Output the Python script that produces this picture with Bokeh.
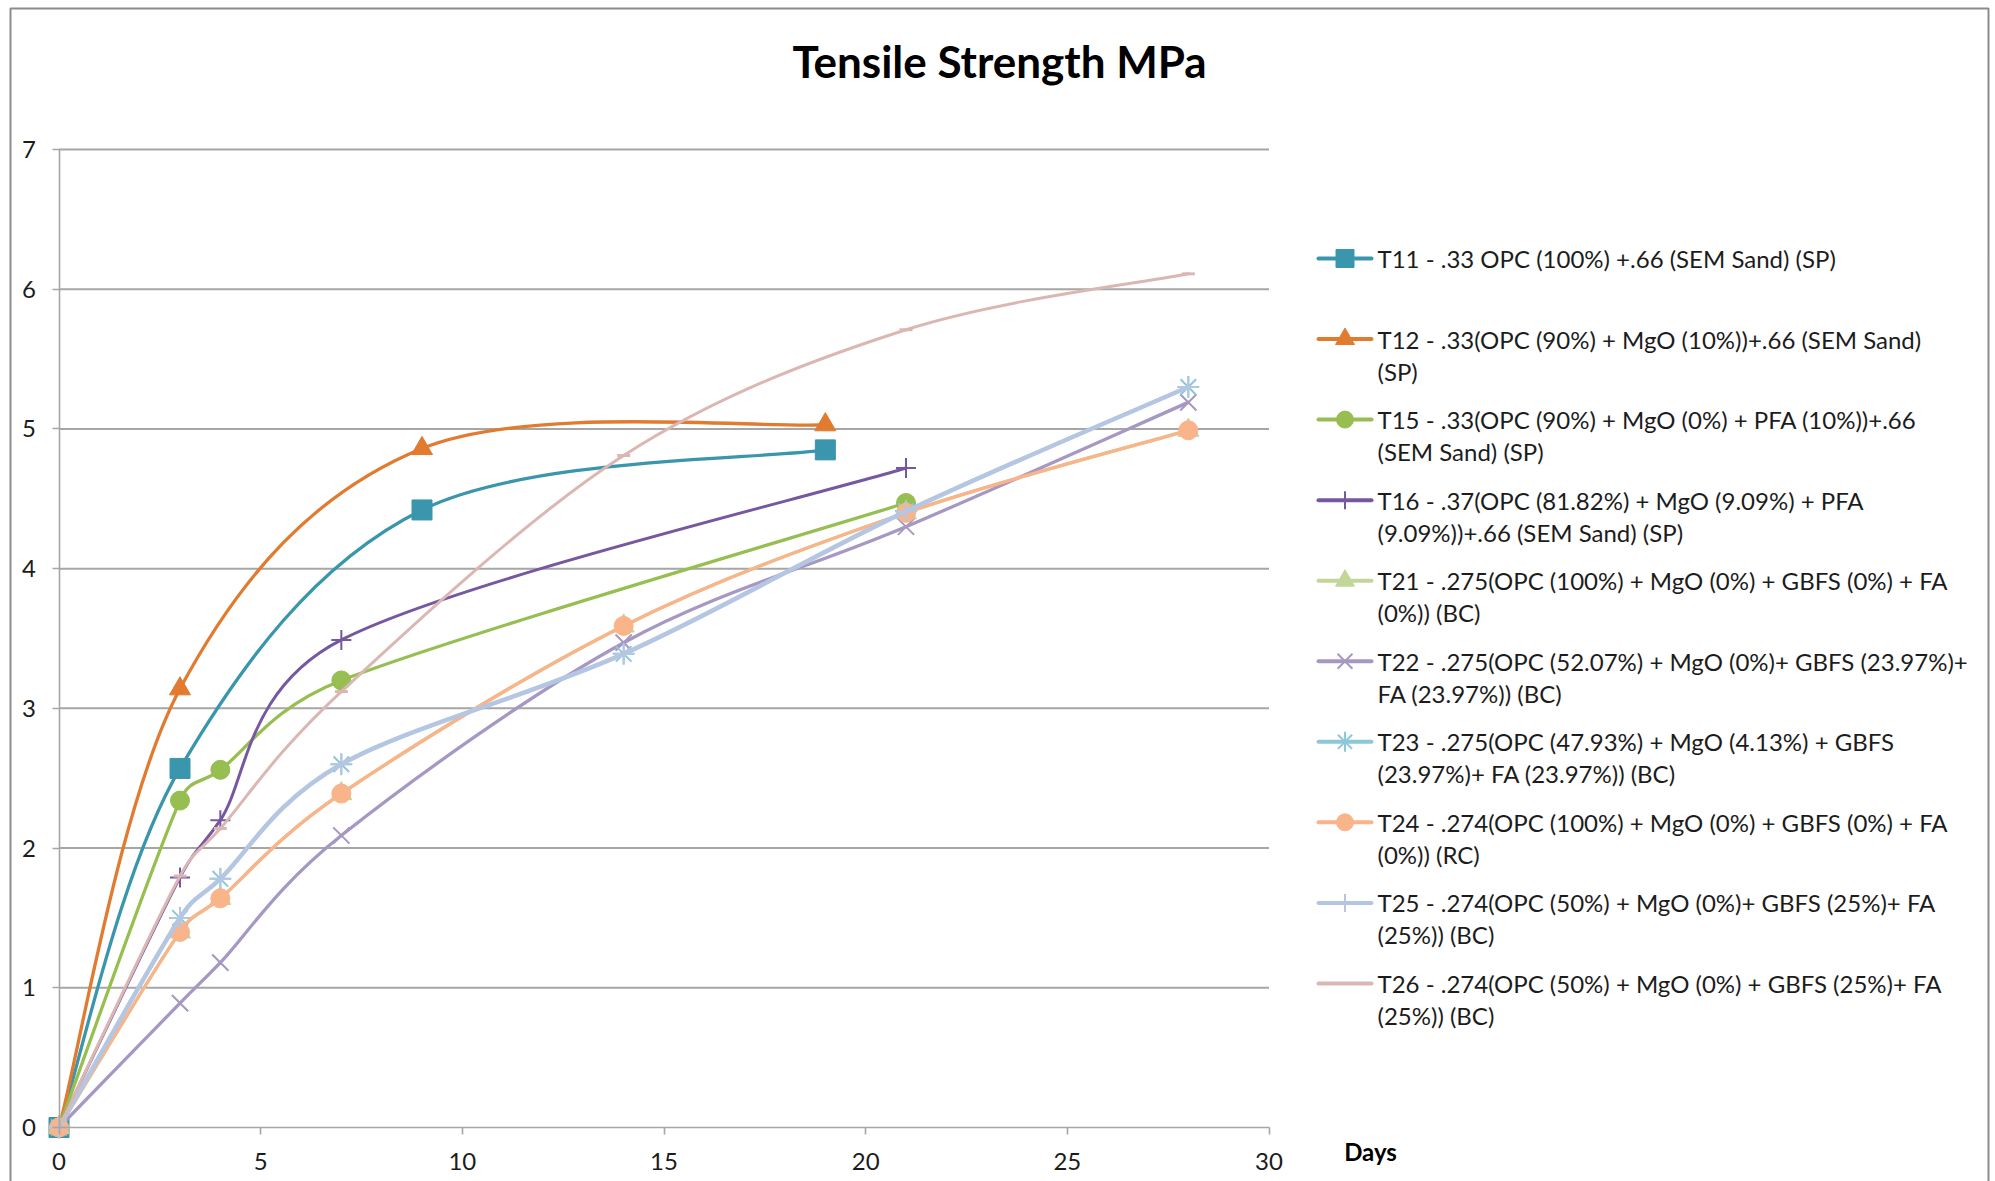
from math import hypot

from bokeh.plotting import figure
from bokeh.models import Range1d, FixedTicker, ColumnDataSource
from bokeh.core.properties import value
from bokeh.embed import file_html
from bokeh.resources import INLINE

# ---------------------------------------------------------------- data
title_text = "Tensile Strength MPa"
x_title = "Days"

day_ticks = [0, 5, 10, 15, 20, 25, 30]
mpa_ticks = [0, 1, 2, 3, 4, 5, 6, 7]

names = [
    "T11 - .33 OPC (100%) +.66 (SEM Sand) (SP)",
    "T12 - .33(OPC (90%) + MgO (10%))+.66 (SEM Sand)\n(SP)",
    "T15 - .33(OPC (90%) + MgO (0%) + PFA (10%))+.66\n(SEM Sand) (SP)",
    "T16 - .37(OPC (81.82%) + MgO (9.09%) + PFA\n(9.09%))+.66 (SEM Sand) (SP)",
    "T21 - .275(OPC (100%) + MgO (0%) + GBFS (0%) + FA\n(0%)) (BC)",
    "T22 - .275(OPC (52.07%) + MgO (0%)+ GBFS (23.97%)+\nFA (23.97%)) (BC)",
    "T23 - .275(OPC (47.93%) + MgO (4.13%) + GBFS\n(23.97%)+ FA (23.97%)) (BC)",
    "T24 - .274(OPC (100%) + MgO (0%) + GBFS (0%) + FA\n(0%)) (RC)",
    "T25 - .274(OPC (50%) + MgO (0%)+ GBFS (25%)+ FA\n(25%)) (BC)",
    "T26 - .274(OPC (50%) + MgO (0%) + GBFS (25%)+ FA\n(25%)) (BC)",
]

t11_days = [0, 3, 9, 19]
t11_mpa = [0, 2.57, 4.42, 4.85]
t12_days = [0, 3, 9, 19]
t12_mpa = [0, 3.14, 4.86, 5.03]
t15_days = [0, 3, 4, 7, 21]
t15_mpa = [0, 2.34, 2.56, 3.20, 4.47]
t16_days = [0, 3, 4, 7, 21]
t16_mpa = [0, 1.79, 2.20, 3.49, 4.72]
t21_days = [0, 3, 4, 7, 14, 21, 28]
t21_mpa = [0, 1.40, 1.64, 2.39, 3.59, 4.40, 4.99]
t22_days = [0, 3, 4, 7, 14, 21, 28]
t22_mpa = [0, 0.89, 1.18, 2.09, 3.47, 4.30, 5.19]
t23_days = [0, 3, 4, 7, 14, 21, 28]
t23_mpa = [0, 1.50, 1.78, 2.60, 3.39, 4.41, 5.30]
t24_days = [0, 3, 4, 7, 14, 21, 28]
t24_mpa = [0, 1.40, 1.64, 2.39, 3.59, 4.40, 4.99]
t25_days = [0, 3, 4, 7, 14, 21, 28]
t25_mpa = [0, 1.50, 1.78, 2.60, 3.39, 4.41, 5.30]
t26_days = [0, 3, 4, 7, 14, 21, 28]
t26_mpa = [0, 1.80, 2.14, 3.12, 4.81, 5.71, 6.11]

series_days = [t11_days, t12_days, t15_days, t16_days, t21_days,
               t22_days, t23_days, t24_days, t25_days, t26_days]
series_mpa = [t11_mpa, t12_mpa, t15_mpa, t16_mpa, t21_mpa,
              t22_mpa, t23_mpa, t24_mpa, t25_mpa, t26_mpa]

# ---------------------------------------------------------------- styles
colors = ["#3A96AD", "#E07B30", "#97BE50", "#7558A0", "#C2D69A",
          "#A698C2", "#8CC8D8", "#F9B48A", "#B4C6E2", "#DBB7B4"]
markers = ["square", "triangle", "circle", "cross", "triangle",
           "x", "asterisk", "circle", "cross", "dash"]
marker_sizes = [20, 21, 19, 20, 21, 23, 22, 19, 20, 13]
marker_filled = [True, True, True, False, True, False, False, True, False, False]
line_widths = [3.3, 3.3, 3.3, 3.0, 3.3, 3.3, 3.3, 3.3, 4.5, 3.0]

FONT = "Lato"
GRID = "#a6a6a6"
INK = "#1c1c1c"

W, H = 1995, 1181
# pixel placement of the plotting area (x: 0..30 days, y: 0..7 MPa)
PX_X0, PX_X30 = 58.5, 1268.5
PX_Y0, PX_Y7 = 1127.0, 149.0

dx = (day_ticks[-1] - day_ticks[0]) / (PX_X30 - PX_X0)
dy = (mpa_ticks[-1] - mpa_ticks[0]) / (PX_Y0 - PX_Y7)
x_range = Range1d(day_ticks[0] - PX_X0 * dx, day_ticks[-1] + (W - PX_X30) * dx)
y_range = Range1d(mpa_ticks[0] - (H - PX_Y0) * dy, mpa_ticks[-1] + PX_Y7 * dy)

p = figure(width=W, height=H, x_range=x_range, y_range=y_range,
           output_backend="svg", toolbar_location=None, min_border=0)
p.title.visible = False
p.outline_line_color = None
p.background_fill_color = "white"
p.border_fill_color = "white"
p.grid.visible = False

# overlay coordinate system in page pixels (y grows downward)
p.extra_x_ranges = {"px": Range1d(0, W)}
p.extra_y_ranges = {"px": Range1d(H, 0)}

# ---------------------------------------------------------------- axes
xa = p.xaxis[0]
xa.fixed_location = 0
xa.bounds = (day_ticks[0], day_ticks[-1])
xa.ticker = FixedTicker(ticks=day_ticks)
ya = p.yaxis[0]
ya.fixed_location = 0
ya.bounds = (mpa_ticks[0], mpa_ticks[-1])
ya.ticker = FixedTicker(ticks=mpa_ticks)
for ax in (xa, ya):
    ax.axis_line_color = GRID
    ax.axis_line_width = 1.6
    ax.major_tick_line_color = GRID
    ax.major_tick_line_width = 1.6
    ax.major_tick_out = 7
    ax.major_tick_in = 0
    ax.minor_tick_line_color = None
    ax.major_label_text_font = FONT
    ax.major_label_text_font_size = "24px"
    ax.major_label_text_color = INK
xa.major_label_standoff = 18
ya.major_label_standoff = 16

# horizontal gridlines
p.segment(x0=[day_ticks[0]] * (len(mpa_ticks) - 1), x1=[day_ticks[-1]] * (len(mpa_ticks) - 1),
          y0=mpa_ticks[1:], y1=mpa_ticks[1:], line_color=GRID, line_width=2)


# ---------------------------------------------------------------- smoothed series
def bezier_pieces(xs, ys, sx=1.0 / dx, sy=1.0 / dy):
    """Cubic Bezier pieces of a smoothed line.

    Catmull-Rom tangents (1/6 of the chord to the neighbours), with each
    control arm limited to half of its segment, measured on screen.
    """
    n = len(xs)

    def dist(i, j):
        return hypot((xs[j] - xs[i]) * sx, (ys[j] - ys[i]) * sy)

    out = {k: [] for k in ("x0", "y0", "x1", "y1", "cx0", "cy0", "cx1", "cy1")}
    for i in range(n - 1):
        a = i - 1 if i > 0 else i
        d = i + 2 if i + 2 < n else i + 1
        half = dist(i, i + 1) / 2.0
        d_a = dist(a, i + 1)
        d_d = dist(i, d)
        f1 = 1.0 / 6.0 if d_a / 6.0 < half else half / d_a
        f2 = 1.0 / 6.0 if d_d / 6.0 < half else half / d_d
        out["x0"].append(xs[i]); out["y0"].append(ys[i])
        out["x1"].append(xs[i + 1]); out["y1"].append(ys[i + 1])
        out["cx0"].append(xs[i] + (xs[i + 1] - xs[a]) * f1)
        out["cy0"].append(ys[i] + (ys[i + 1] - ys[a]) * f1)
        out["cx1"].append(xs[i + 1] - (xs[d] - xs[i]) * f2)
        out["cy1"].append(ys[i + 1] - (ys[d] - ys[i]) * f2)
    return out


def draw_marker(kind, color, size, filled, **where):
    kw = dict(marker=kind, size=size, line_color=color)
    if filled:
        kw.update(fill_color=color, line_width=1)
    else:
        kw.update(fill_color=None, line_width=3 if kind == "dash" else 2)
    p.scatter(**where, **kw)


for i in range(len(names)):
    src = ColumnDataSource(bezier_pieces(series_days[i], series_mpa[i]))
    p.bezier(x0="x0", y0="y0", x1="x1", y1="y1", cx0="cx0", cy0="cy0",
             cx1="cx1", cy1="cy1", source=src, line_color=colors[i],
             line_width=line_widths[i], line_cap="round")
    draw_marker(markers[i], colors[i], marker_sizes[i], marker_filled[i],
                x=series_days[i], y=series_mpa[i])

# ---------------------------------------------------------------- title, axis title
p.text(x=[999], y=[60], text=[title_text], x_range_name="px", y_range_name="px",
       text_font=value(FONT), text_font_style="bold", text_font_size="44px",
       text_align="center", text_baseline="middle", text_color="black")
p.text(x=[1370], y=[1151], text=[x_title], x_range_name="px", y_range_name="px",
       text_font=value(FONT), text_font_style="bold", text_font_size="24px",
       text_align="center", text_baseline="middle", text_color="black")

# ---------------------------------------------------------------- legend
LEG_TOP, LEG_STEP, LINE_STEP = 258.0, 80.55, 32.0
SYM_X0, SYM_X1, TXT_X = 1318.0, 1371.0, 1377.0
for i, name in enumerate(names):
    yy = LEG_TOP + LEG_STEP * i
    p.segment(x0=[SYM_X0], y0=[yy], x1=[SYM_X1], y1=[yy], x_range_name="px",
              y_range_name="px", line_color=colors[i], line_width=4, line_cap="round")
    draw_marker(markers[i], colors[i], marker_sizes[i] - 2, marker_filled[i],
                x=[(SYM_X0 + SYM_X1) / 2], y=[yy], x_range_name="px", y_range_name="px")
    rows = name.split("\n")
    p.text(x=[TXT_X] * len(rows), y=[yy + LINE_STEP * k for k in range(len(rows))],
           text=rows, x_range_name="px", y_range_name="px",
           text_font=value(FONT), text_font_size="24px", text_align="left",
           text_baseline="middle", text_color=INK)

# outer chart border
p.multi_line(xs=[[10, 10, 1988, 1988]], ys=[[H + 5, 8, 8, H + 5]],
             x_range_name="px", y_range_name="px", line_color="#8c8c8c", line_width=2)

open("out.html", "w").write(file_html(p, INLINE))
